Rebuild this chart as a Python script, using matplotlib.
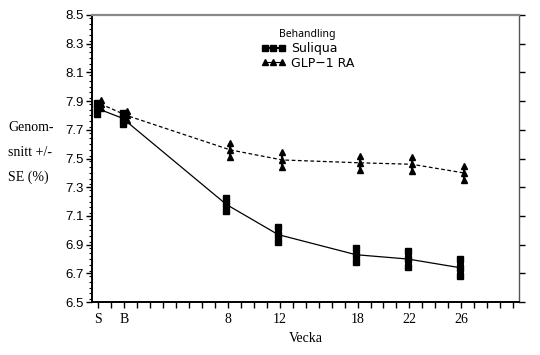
"""HbA1c over time by treatment group (mean +/- SE)."""

import matplotlib
matplotlib.use('Agg')
import matplotlib.pyplot as plt
import numpy as np
from matplotlib.ticker import MultipleLocator
from matplotlib.lines import Line2D


# weeks: S = screening (-2), B = baseline (0)
weeks = [-2, 0, 8, 12, 18, 22, 26]
tick_labels = ['S', 'B', '8', '12', '18', '22', '26']

suliqua_mean = [7.85, 7.78, 7.18, 6.97, 6.83, 6.80, 6.74]
suliqua_se = [0.04, 0.04, 0.045, 0.05, 0.05, 0.055, 0.058]

glp1_mean = [7.88, 7.80, 7.56, 7.49, 7.47, 7.46, 7.40]
glp1_se = [0.03, 0.03, 0.05, 0.052, 0.05, 0.05, 0.05]


def draw_group(ax, x, mean, se, marker, ms, ls, bar_lw):
    x = np.asarray(x, dtype=float)
    mean = np.asarray(mean)
    se = np.asarray(se)
    ax.plot(x, mean, color='k', lw=0.9, ls=ls, zorder=2)
    ax.vlines(x, mean - se, mean + se, color='k', lw=bar_lw, zorder=3)
    for yy in (mean - se, mean, mean + se):
        ax.plot(x, yy, ls='none', marker=marker, ms=ms, color='k',
                mec='k', zorder=4)


fig = plt.figure(figsize=(5.4, 3.55), dpi=100)
ax = fig.add_axes([0.170, 0.149, 0.791, 0.809])

draw_group(ax, np.array(weeks) - 0.12, suliqua_mean, suliqua_se,
           's', 5.0, '-', 5.0)
draw_group(ax, np.array(weeks) + 0.18, glp1_mean, glp1_se,
           '^', 4.2, (0, (3, 2)), 1.6)

ax.set_xlim(-2.5, 30.45)
ax.set_ylim(6.5, 8.5)
ax.set_xticks(weeks)
ax.set_xticklabels(tick_labels, family='Liberation Serif', fontsize=10)
ax.xaxis.set_minor_locator(MultipleLocator(1))
ax.set_yticks(np.arange(6.5, 8.51, 0.2))
ax.set_yticklabels(['%.1f' % v for v in np.arange(6.5, 8.51, 0.2)],
                   family='Liberation Sans', fontsize=9.5)
ax.yaxis.set_minor_locator(MultipleLocator(0.04))

ax.tick_params(axis='x', which='both', direction='out', length=4,
               width=1, pad=4)
ax.tick_params(axis='y', which='major', direction='out', length=4,
               width=1, pad=2, right=True)
ax.tick_params(axis='y', which='minor', direction='out', length=2.5,
               width=0.8)

for s in ['left', 'bottom']:
    ax.spines[s].set_linewidth(1.4)
ax.spines['top'].set_color('#888888')
ax.spines['top'].set_linewidth(1.6)
ax.spines['right'].set_color('#555555')
ax.spines['right'].set_linewidth(1.0)

ax.set_xlabel('Vecka', family='Liberation Serif', fontsize=10, labelpad=4)
fig.text(0.015, 0.57, 'Genom-\n\nsnitt +/-\n\nSE (%)',
         family='Liberation Serif', fontsize=10, ha='left', va='center',
         linespacing=0.95)

# legend: three markers joined by a line, as in the source
handles = [
    Line2D([], [], color='k', lw=1.5, marker='s', ms=4.5),
    Line2D([], [], color='k', lw=0.8, marker='^', ms=4.2),
]
leg = ax.legend(handles, ['Suliqua', 'GLP\u22121 RA'], loc='upper center',
                bbox_to_anchor=(0.505, 0.99), frameon=False,
                title='Behandling', handlelength=2.0,
                handletextpad=0.4, labelspacing=0.15, numpoints=3,
                prop={'family': 'DejaVu Sans', 'size': 9})
leg.get_title().set_fontweight('bold')
leg.get_title().set_fontsize(7.5)
leg.get_title().set_family('Noto Sans')

fig.savefig('out.png', dpi=100)
